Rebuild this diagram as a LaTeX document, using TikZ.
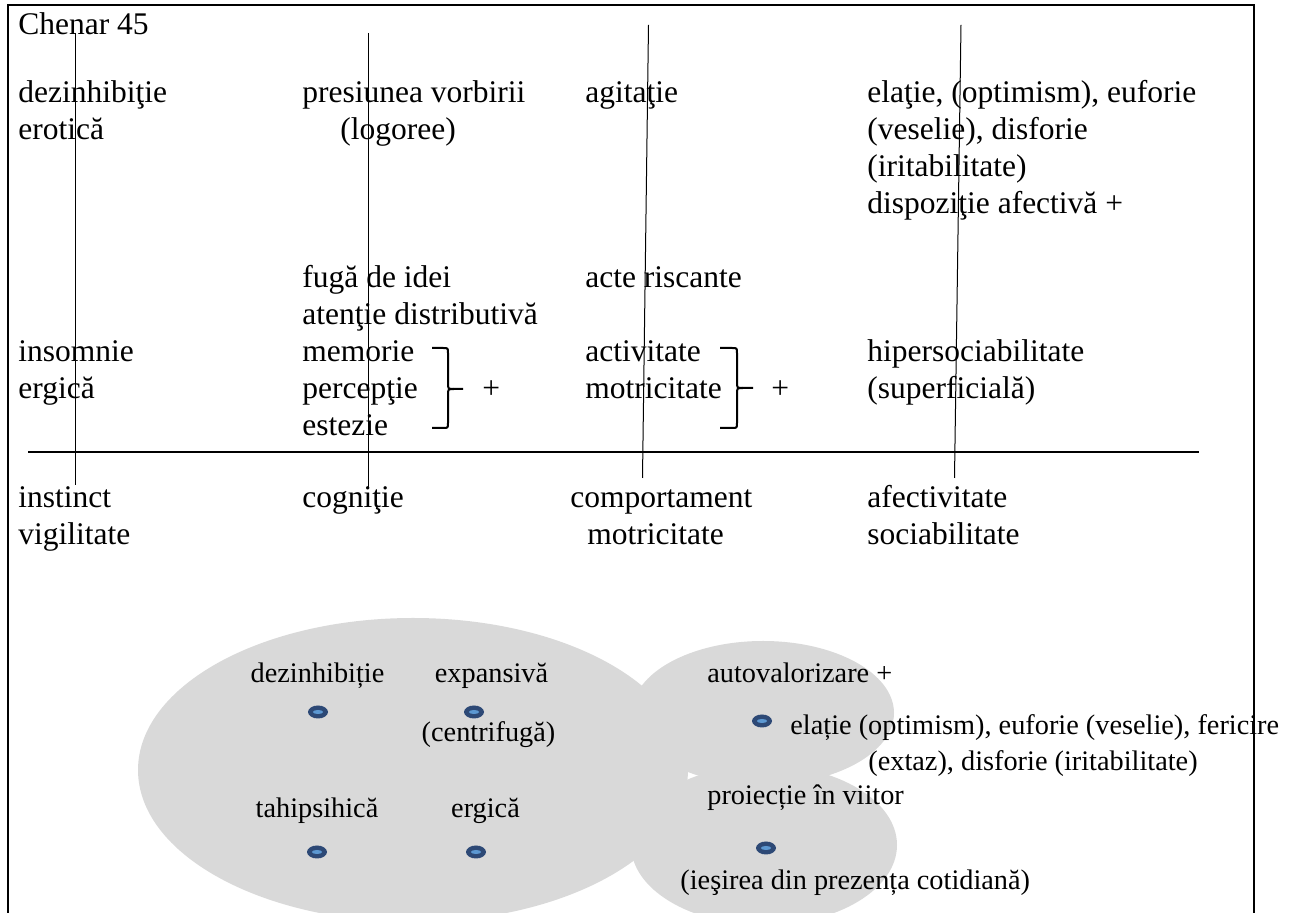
\documentclass[tikz,border=0pt]{standalone}
\usepackage{fontspec}
\setmainfont{Liberation Serif}
\usepackage{tikz}
\usetikzlibrary{
    shapes.geometric
}
\definecolor{bubblegray}{RGB}{217,217,217}
\definecolor{dotdark}{RGB}{45,73,118}
\definecolor{dotlight}{RGB}{92,152,210}
\tikzset{
    cell/.style = {
        anchor=base west,
        inner sep=0pt,
        font=\fontsize{15.75}{18.5}\selectfont
    },
    note/.style = {
        anchor=base west,
        inner sep=0pt,
        font=\fontsize{14.15}{18}\selectfont
    },
    bubble/.style = {
        fill=bubblegray
    },
    dot/.style = {
        ellipse,
        fill=dotdark,
        inner sep=0pt,
        minimum width=10pt,
        minimum height=6.5pt,
        path picture={\fill[dotlight] (path picture bounding box.center) ellipse [x radius=2.6pt, y radius=1pt];}
    },
    divider/.style = {
        line width=0.5pt
    },
    rule/.style = {
        line width=1pt
    },
    bracket/.style = {
        line width=1pt
    }
}

\begin{document}
\begin{tikzpicture}[x=0.5pt,y=-0.5pt]
\useasboundingbox (0,0) rectangle (1292,913);

\fill[bubble] (413,770) ellipse [x radius=275, y radius=152];
\fill[bubble] (763,713) ellipse [x radius=131, y radius=72];
\fill[bubble] (764,845) ellipse [x radius=133, y radius=80];

\draw[rule] (8,913) -- (8,5) -- (1254,5) -- (1254,913);
\draw[rule] (28,452) -- (1199,452);
\draw[divider] (75,33) -- (75,485);
\draw[divider] (368,33) -- (368,488);
\draw[divider] (648.5,25) -- (642.5,478);
\draw[divider] (961,25) -- (954.5,478);

\node[cell] (title) at (18,35) {Chenar 45};
\node[cell, align=left] (erotic) at (18,140) {dezinhibiţie\\erotică};
\node[cell, align=left] (ergic) at (18,399) {insomnie\\ergică};
\node[cell, align=left] (instinct) at (18,545) {instinct\\vigilitate};

\node[cell] (speech) at (302,103) {presiunea vorbirii};
\node[cell] (logor) at (340,140) {(logoree)};
\node[cell, align=left] (ideas) at (302,436) {fugă de idei\\atenţie distributivă\\memorie\\percepţie\\estezie};
\node[cell] (cogn) at (302,508) {cogniţie};

\node[cell] (agit) at (585,103) {agitaţie};
\node[cell] (risk) at (585,288) {acte riscante};
\node[cell, align=left] (activ) at (585,399) {activitate\\motricitate};
\node[cell] (behav) at (570,508) {comportament};
\node[cell] (motor) at (587,545) {motricitate};

\node[cell, align=left] (mood) at (867,214) {elaţie, (optimism), euforie\\(veselie), disforie\\(iritabilitate)\\dispoziţie afectivă +};
\node[cell, align=left] (social) at (867,399) {hipersociabilitate\\(superficială)};
\node[cell, align=left] (affect) at (867,545) {afectivitate\\sociabilitate};

\draw[bracket] (432,348) -- (443,348) .. controls (448,348) .. (448,353) -- (448,383)
    .. controls (448,389) .. (454,389) -- (463,389);
\draw[bracket] (432,428) -- (443,428) .. controls (448,428) .. (448,423) -- (448,395)
    .. controls (448,389) .. (454,389);
\draw[bracket] (720,348) -- (732,348) .. controls (737,348) .. (737,353) -- (737,382)
    .. controls (737,388) .. (743,388) -- (753,388);
\draw[bracket] (720,428) -- (732,428) .. controls (737,428) .. (737,423) -- (737,394)
    .. controls (737,388) .. (743,388);
\node[cell] (plusA) at (482,399) {+};
\node[cell] (plusB) at (771,399) {+};

\node[dot] (dotA) at (318,712) {};
\node[dot] (dotB) at (474,712) {};
\node[dot] (dotC) at (317,852) {};
\node[dot] (dotD) at (476,852) {};
\node[dot] (dotE) at (762,721) {};
\node[dot] (dotF) at (766,848) {};

\node[note, anchor=base] (disinhib) at (317.5,683) {dezinhibiție};
\node[note, anchor=base] (expans) at (491.5,683) {expansivă};
\node[note, anchor=base] (centrif) at (488.5,742) {(centrifugă)};
\node[note, anchor=base] (tahi) at (317,818) {tahipsihică};
\node[note, anchor=base] (ergica) at (485.5,818) {ergică};
\node[note] (selfval) at (707,683) {autovalorizare +};
\node[note] (elation) at (790,735) {elație (optimism), euforie (veselie), fericire};
\node[note] (extaz) at (868,771) {(extaz), disforie (iritabilitate)};
\node[note] (future) at (707,805) {proiecție în viitor};
\node[note] (exit) at (680,890) {(ieşirea din prezența cotidiană)};
\end{tikzpicture}
\end{document}
